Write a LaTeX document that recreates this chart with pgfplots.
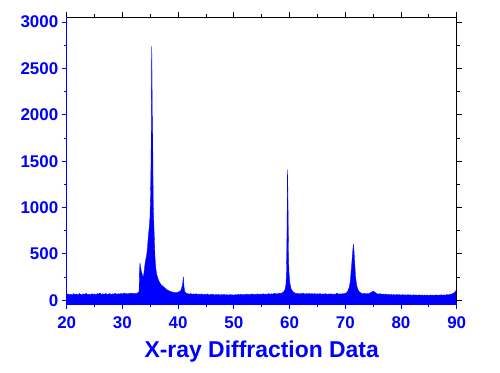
\documentclass[border=0pt]{standalone}
\usepackage{fontspec}
\setmainfont{Liberation Sans}
\usepackage{pgfplots}
\pgfplotsset{compat=1.18}
\definecolor{xblue}{RGB}{0,0,255}
\begin{document}
\begin{tikzpicture}
\pgfplotsset{
  myaxis/.style={
    width=390bp, height=286.5bp, scale only axis,
    xmin=20, xmax=90, ymin=-40, ymax=3050,
    xtick={20,30,...,90}, ytick={0,500,...,3000},
    minor x tick num=1, minor y tick num=1,
    tick align=outside,
    major tick length=5bp, minor tick length=3bp,
    axis line style={draw=none},
    clip=false,
  }
}
\begin{axis}[myaxis,
    xtick pos=left, ytick pos=left,
    tick style={xblue, line width=0.9bp},
    tick label style={font=\fontsize{17}{17}\selectfont\bfseries, text=xblue},
    xticklabel style={yshift=-4.5bp},
    /pgf/number format/assume math mode=true,
    /pgf/number format/set thousands separator={},
    xlabel={X-ray Diffraction Data},
    xlabel style={font=\fontsize{23}{23}\selectfont\bfseries, text=xblue,
      at={(axis description cs:0.5,0)}, anchor=base, yshift=-53.5bp},
  ]
\addplot[fill=xblue, draw=xblue, line width=0.3bp] coordinates {
(20.00,-40) (20.00,62) (20.25,70) (20.50,58) (20.75,66) (21.00,55) (21.25,72) (21.50,61) (21.75,68)
(22.00,57) (22.25,74) (22.50,63) (22.75,59) (23.00,70) (23.25,62) (23.50,76) (23.75,60)
(24.00,67) (24.25,58) (24.50,71) (24.75,64) (25.00,69) (25.25,60) (25.50,73) (25.75,66)
(26.00,80) (26.25,62) (26.50,70) (26.75,64) (27.00,75) (27.25,61) (27.50,68) (27.75,72)
(28.00,63) (28.25,70) (28.50,66) (28.75,77) (29.00,64) (29.25,71) (29.50,68) (29.75,74)
(30.00,66) (30.25,79) (30.50,70) (30.75,73) (31.00,67) (31.25,76) (31.50,71) (31.75,78)
(32.00,70) (32.25,75) (32.50,72) (32.75,80) (33.00,95)
(33.05,300) (33.15,405) (33.25,360) (33.40,310) (33.60,270) (33.75,250) (33.90,310)
(34.05,390) (34.20,440) (34.36,490) (34.50,570) (34.65,690) (34.80,780) (34.95,900)
(35.05,1150) (35.15,1550) (35.22,2300) (35.26,2740) (35.30,2610) (35.35,2000) (35.43,1960)
(35.48,1400) (35.55,1000) (35.70,720) (35.85,460) (36.00,340) (36.15,280) (36.40,230)
(36.70,190) (37.00,165) (37.30,150) (37.70,128) (38.10,110) (38.50,98) (39.00,88)
(39.50,82) (40.00,88) (40.50,105) (40.80,170) (40.93,255) (41.05,150) (41.20,92) (41.50,76)
(41.75,72) (42.00,66) (42.25,74) (42.50,63) (42.75,70) (43.00,65) (43.25,71) (43.50,60) (43.75,68)
(44.00,64) (44.25,70) (44.50,58) (44.75,66) (45.00,62) (45.25,69) (45.50,57) (45.75,64)
(46.00,60) (46.25,67) (46.50,56) (46.75,63) (47.00,59) (47.25,66) (47.50,55) (47.75,62)
(48.00,58) (48.25,65) (48.50,57) (48.75,61) (49.00,55) (49.25,63) (49.50,58) (49.75,60)
(50.00,54) (50.25,62) (50.50,57) (50.75,64) (51.00,59) (51.25,66) (51.50,58) (51.75,63)
(52.00,60) (52.25,68) (52.50,59) (52.75,65) (53.00,61) (53.25,70) (53.50,62) (53.75,66)
(54.00,60) (54.25,69) (54.50,63) (54.75,67) (55.00,62) (55.25,71) (55.50,64) (55.75,68)
(56.00,63) (56.25,74) (56.50,65) (56.75,70) (57.00,66) (57.25,76) (57.50,68) (57.75,72)
(58.00,70) (58.25,78) (58.50,74) (58.75,82)
(59.00,95) (59.20,120) (59.35,170) (59.45,300) (59.55,800) (59.62,1413) (59.68,1300)
(59.75,900) (59.82,450) (59.90,300) (60.05,190) (60.25,130) (60.50,100) (60.75,85)
(61.00,78) (61.25,72) (61.50,76) (61.75,68) (62.00,74) (62.25,70) (62.50,77) (62.75,66)
(63.00,73) (63.25,69) (63.50,75) (63.75,67) (64.00,72) (64.25,68) (64.50,74) (64.75,65)
(65.00,71) (65.25,67) (65.50,73) (65.75,64) (66.00,70) (66.25,66) (66.50,72) (66.75,63)
(67.00,69) (67.25,65) (67.50,71) (67.75,62) (68.00,68) (68.25,64) (68.50,78) (68.75,66)
(69.00,70) (69.25,67) (69.50,72) (69.75,70) (70.00,76) (70.25,82)
(70.45,100) (70.65,130) (70.90,200) (71.10,350) (71.30,500) (71.45,607) (71.55,550)
(71.70,400) (71.85,250) (72.05,160) (72.30,110) (72.55,90) (72.80,80)
(73.00,74) (73.25,70) (73.50,76) (73.75,68) (74.00,73) (74.25,70) (74.50,82) (74.75,88)
(75.00,100) (75.25,90) (75.50,78) (75.75,70) (76.00,66) (76.25,72) (76.50,64) (76.75,68)
(77.00,62) (77.25,67) (77.50,60) (77.75,65) (78.00,58) (78.25,64) (78.50,57) (78.75,62)
(79.00,56) (79.25,63) (79.50,58) (79.75,61) (80.00,55) (80.25,62) (80.50,57) (80.75,60)
(81.00,54) (81.25,61) (81.50,56) (81.75,59) (82.00,53) (82.25,60) (82.50,55) (82.75,58)
(83.00,52) (83.25,59) (83.50,54) (83.75,57) (84.00,52) (84.25,58) (84.50,53) (84.75,57)
(85.00,51) (85.25,58) (85.50,54) (85.75,56) (86.00,52) (86.25,59) (86.50,53) (86.75,57)
(87.00,54) (87.25,60) (87.50,55) (87.75,58) (88.00,56) (88.25,62) (88.50,58) (88.75,64)
(89.00,66) (89.25,72) (89.50,80) (89.75,95) (90.00,115) (90.00,-40)
} -- cycle;
\draw[black, line width=1.2bp] (rel axis cs:0,1) -- (rel axis cs:1,1) -- (rel axis cs:1,0);
\draw[xblue, line width=1.2bp] (rel axis cs:0,1) -- (rel axis cs:0,0) -- (rel axis cs:1,0);
\end{axis}
\begin{axis}[myaxis,
    xtick pos=right, ytick pos=right,
    tick style={black, line width=0.9bp},
    xticklabels={}, yticklabels={},
  ]
\end{axis}
\path ([shift={(-66.7bp,-68bp)}]current axis.south west) rectangle ([shift={(43.3bp,17.5bp)}]current axis.north east);
\end{tikzpicture}
\end{document}
